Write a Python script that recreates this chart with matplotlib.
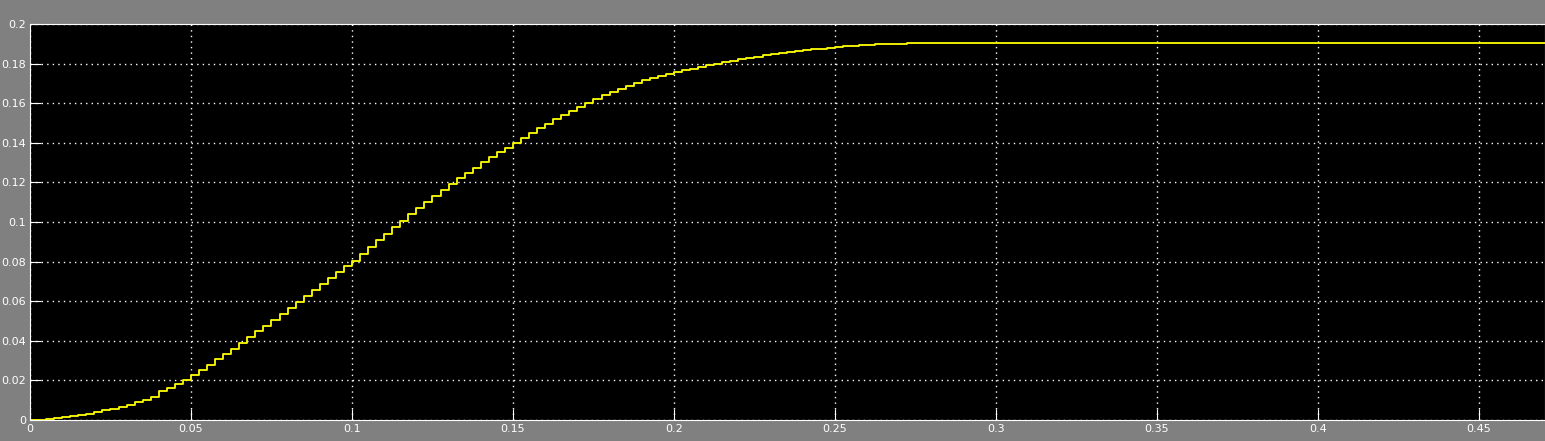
import matplotlib
matplotlib.use("Agg")
import matplotlib.pyplot as plt
import numpy as np

# scope samples (step 0.0025 s)
dt = 0.0025
y_samples = [
    0, 0.0002, 0.0005, 0.0009, 0.0014, 0.0019, 0.0025, 0.0032, 0.0040, 0.0048,
    0.0057, 0.0067, 0.0078, 0.0090, 0.0103, 0.0117, 0.0145, 0.0162, 0.0182, 0.0204,
    0.0228, 0.0253, 0.0279, 0.0306, 0.0333, 0.0361, 0.0389, 0.0418, 0.0447, 0.0477,
    0.0507, 0.0537, 0.0567, 0.0597, 0.0627, 0.0657, 0.0687, 0.0717, 0.0747, 0.0776,
    0.0805, 0.0839, 0.0873, 0.0907, 0.0940, 0.0973, 0.1006, 0.1038, 0.1070, 0.1101,
    0.1132, 0.1162, 0.1191, 0.1220, 0.1248, 0.1275, 0.1301, 0.1327, 0.1352, 0.1376,
    0.1400, 0.1425, 0.1450, 0.1474, 0.1497, 0.1520, 0.1542, 0.1563, 0.1583, 0.1603,
    0.1622, 0.1640, 0.1657, 0.1673, 0.1688, 0.1702, 0.1715, 0.1727, 0.1738, 0.1748,
    0.1757, 0.1766, 0.1775, 0.1784, 0.1792, 0.1800, 0.1808, 0.1815, 0.1822, 0.1829,
    0.1835, 0.1841, 0.1847, 0.1852, 0.1857, 0.1862, 0.1867, 0.1872, 0.1876, 0.1880,
    0.1885, 0.1888, 0.1891, 0.1893, 0.1895, 0.1897, 0.1899, 0.1900, 0.1901, 0.1902,
    0.1903, 0.1904, 0.1905,
]
t_end = 0.4705
x_ticks = [0, 0.05, 0.1, 0.15, 0.2, 0.25, 0.3, 0.35, 0.4, 0.45]
x_labels = ["0", "0.05", "0.1", "0.15", "0.2", "0.25", "0.3", "0.35", "0.4", "0.45"]
y_ticks = [0, 0.02, 0.04, 0.06, 0.08, 0.1, 0.12, 0.14, 0.16, 0.18, 0.2]
y_labels = ["0", "0.02", "0.04", "0.06", "0.08", "0.1", "0.12", "0.14", "0.16", "0.18", "0.2"]

t = np.arange(len(y_samples)) * dt
t = np.append(t, t_end)
y = np.append(y_samples, y_samples[-1])

fig = plt.figure(figsize=(15.45, 4.41), dpi=100, facecolor="#808080")
ax = fig.add_axes([30 / 1545, 21 / 441, 1 - 30 / 1545, 396 / 441])
ax.set_facecolor("black")
ax.step(t, y, where="post", color="#ffff00", lw=1.3)

ax.set_xlim(0, t_end)
ax.set_ylim(0, 0.2)
ax.set_xticks(x_ticks)
ax.set_xticklabels(x_labels)
ax.set_yticks(y_ticks)
ax.set_yticklabels(y_labels)
ax.grid(True, color="white", linestyle=(0, (1, 3)), lw=1)
ax.tick_params(direction="in", colors="white", length=8, labelsize=8, pad=3)
for s in ax.spines.values():
    s.set_color("white")

fig.savefig("out.png", facecolor=fig.get_facecolor())
